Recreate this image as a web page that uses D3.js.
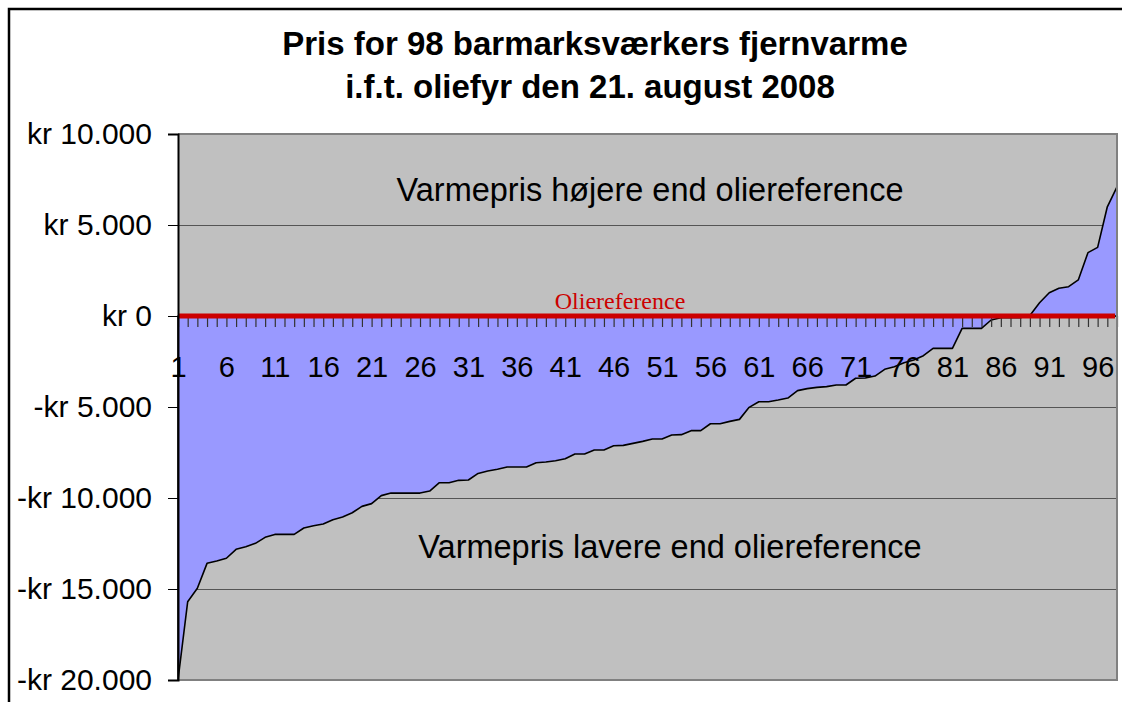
<!DOCTYPE html>
<html>
<head>
<meta charset="utf-8">
<script src="https://cdn.jsdelivr.net/npm/d3@7"></script>
<style>
  html, body { margin: 0; padding: 0; background: #fff; overflow: hidden; }
  svg { display: block; font-family: "Liberation Sans", Arial, sans-serif; }
</style>
</head>
<body>
<svg id="chart"></svg>
<script>
// titles and labels
const titleLines = ['Pris for 98 barmarksværkers fjernvarme', 'i.f.t. oliefyr den 21. august 2008']
const upperNote = 'Varmepris højere end oliereference'
const lowerNote = 'Varmepris lavere end oliereference'
const refLabel = 'Oliereference'

// price difference vs oil heating, sorted, one value per plant (kr)
const prices = [
  -20000, -15700, -14960, -13590, -13460, -13310, -12820, -12680, -12490, -12160,
  -12000, -12000, -12000, -11650, -11520, -11430, -11190, -11040, -10810, -10460,
  -10310, -9870, -9730, -9730, -9730, -9730, -9620, -9160, -9160, -9030,
  -9010, -8650, -8520, -8420, -8300, -8300, -8300, -8060, -8020, -7950,
  -7840, -7580, -7580, -7360, -7360, -7130, -7110, -7000, -6890, -6760,
  -6760, -6540, -6520, -6300, -6300, -5920, -5920, -5790, -5680, -5020,
  -4710, -4710, -4620, -4510, -4100, -3990, -3920, -3880, -3790, -3790,
  -3420, -3410, -3300, -2930, -2790, -2570, -2420, -2180, -1780, -1780,
  -1780, -680, -680, -680, -220, -100, -100, -100, 30, 730,
  1280, 1520, 1610, 1980, 3480, 3770, 6000, 7100
]
const plants = d3.range(1, prices.length + 1)
const yTicks = [10000, 5000, 0, -5000, -10000, -15000, -20000]
const xLabelTicks = plants.filter(d => d % 5 === 1)

const width = 1125
const height = 702
const plot = { left: 178, top: 134, right: 1117, bottom: 680 }

const svg = d3.select('#chart')
    .attr('width', width)
    .attr('height', height)

svg.append('rect')
    .attr('width', width)
    .attr('height', height)
    .attr('fill', '#fff')

// outer chart frame: only top and left edges fall inside the picture
svg.append('path')
    .attr('d', 'M9,720V9H1122')
    .attr('fill', 'none')
    .attr('stroke', '#000')
    .attr('stroke-width', 2.5)

// title
svg.append('text')
    .attr('y', 55)
    .attr('text-anchor', 'middle')
    .attr('font-size', 33)
    .attr('font-weight', 'bold')
    .selectAll('tspan')
    .data(titleLines)
    .join('tspan')
      .attr('x', (d, i) => i === 0 ? 595 : 590)
      .attr('dy', (d, i) => i === 0 ? 0 : 43)
      .text(d => d)

const x = d3.scaleLinear()
    .domain([1, prices.length])
    .range([plot.left, plot.right])

const y = d3.scaleLinear()
    .domain([-20000, 10000])
    .range([plot.bottom, plot.top])

const fmt = v => {
  const s = d3.format(',')(Math.abs(v)).replace(/,/g, '.')
  return (v < 0 ? '-kr ' : 'kr ') + s
}

// plot background
svg.append('rect')
    .attr('x', plot.left)
    .attr('y', plot.top)
    .attr('width', plot.right - plot.left)
    .attr('height', plot.bottom - plot.top)
    .attr('fill', '#c0c0c0')

// gridlines
svg.append('g')
    .attr('transform', `translate(${plot.left},0)`)
    .call(d3.axisLeft(y).tickValues(yTicks).tickSize(-(plot.right - plot.left)).tickFormat(''))
    .call(g => g.select('.domain').remove())
    .call(g => g.selectAll('line').attr('stroke', '#555').attr('stroke-width', 1))

// area between price and oil reference
const area = d3.area()
    .x((d, i) => x(plants[i]))
    .y0(y(0))
    .y1(d => y(d))

svg.append('path')
    .datum(prices)
    .attr('d', area)
    .attr('fill', '#9999ff')
    .attr('stroke', '#000')
    .attr('stroke-width', 1.6)
    .attr('stroke-linejoin', 'round')

// notes in the plot
svg.append('text')
    .attr('x', 650)
    .attr('y', 201)
    .attr('text-anchor', 'middle')
    .attr('font-size', 32.5)
    .text(upperNote)

svg.append('text')
    .attr('x', 670)
    .attr('y', 558)
    .attr('text-anchor', 'middle')
    .attr('font-size', 32.5)
    .text(lowerNote)

// category tick marks under the zero line
svg.append('g')
    .attr('transform', `translate(0,${y(0)})`)
    .call(d3.axisBottom(x).tickValues(plants).tickSize(11).tickFormat(''))
    .call(g => g.select('.domain').remove())
    .call(g => g.selectAll('line').attr('stroke', '#333').attr('stroke-width', 1.2))

// category labels
svg.append('g')
    .attr('transform', `translate(0,${y(0)})`)
    .call(d3.axisBottom(x).tickValues(xLabelTicks).tickSize(0).tickPadding(40))
    .call(g => g.select('.domain').remove())
    .call(g => g.selectAll('text')
        .attr('font-size', 29)
        .attr('font-family', '"Liberation Sans", Arial, sans-serif')
        .attr('fill', '#000'))

// oil reference line
svg.append('line')
    .attr('x1', plot.left)
    .attr('x2', plot.right - 2)
    .attr('y1', y(0))
    .attr('y2', y(0))
    .attr('stroke', '#cc0000')
    .attr('stroke-width', 5)

svg.append('text')
    .attr('x', 620)
    .attr('y', 309)
    .attr('text-anchor', 'middle')
    .attr('font-family', '"Liberation Serif", "Times New Roman", serif')
    .attr('font-size', 24)
    .attr('fill', '#cc0000')
    .text(refLabel)

// plot border (right and bottom)
svg.append('path')
    .attr('d', `M${plot.left},${plot.top}H${plot.right}V${plot.bottom}H${plot.left}`)
    .attr('fill', 'none')
    .attr('stroke', '#808080')
    .attr('stroke-width', 2)

// value axis
svg.append('g')
    .attr('transform', `translate(${plot.left},0)`)
    .call(d3.axisLeft(y).tickValues(yTicks).tickSize(10).tickPadding(16).tickFormat(fmt))
    .call(g => g.select('.domain').attr('stroke', '#000').attr('stroke-width', 2))
    .call(g => g.selectAll('line').attr('stroke', '#000'))
    .call(g => g.selectAll('text')
        .attr('font-size', 30)
        .attr('font-family', '"Liberation Sans", Arial, sans-serif')
        .attr('fill', '#000'))
</script>
</body>
</html>
